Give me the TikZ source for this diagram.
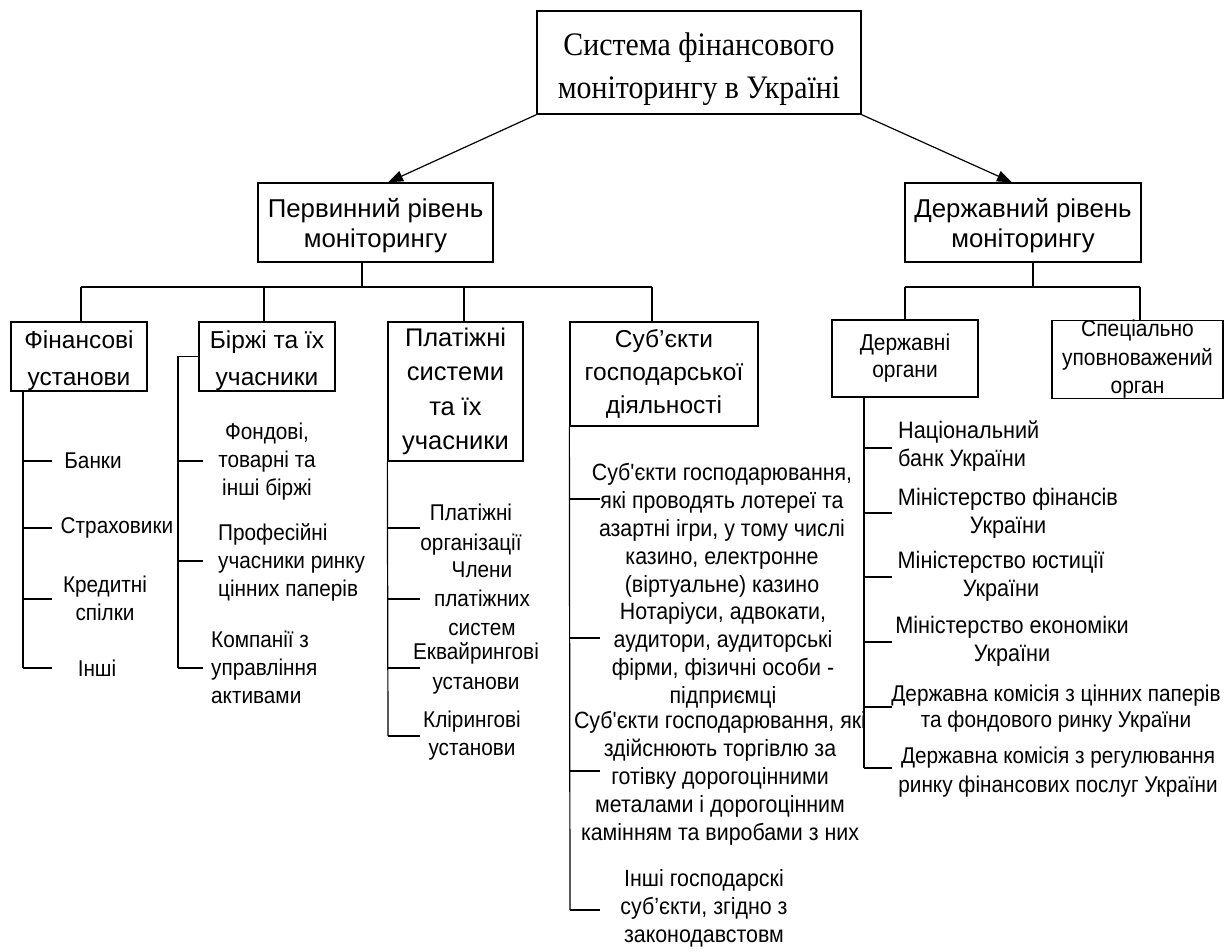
\documentclass[tikz,border=0pt]{standalone}
\usepackage{fontspec}
\setmainfont{Liberation Sans}
\newfontfamily\nar[FakeStretch=0.91]{Liberation Sans}
\newfontfamily\tms[FakeStretch=0.91]{Liberation Serif}
\usetikzlibrary{arrows.meta,calc}
\tikzset{
  box/.style={draw, line width=1.3pt, inner sep=0pt, align=center},
  hdr/.style={font=\fontsize{24.5}{37}\selectfont},
  lbl/.style={inner sep=0pt, align=center, font=\nar\fontsize{22.8}{28}\selectfont},
  lbll/.style={lbl, anchor=west, align=left},
  ln/.style={line width=1.2pt},
  arr/.style={line width=1.2pt, -{Triangle[length=15pt,width=11pt]}},
}
\begin{document}
\begin{tikzpicture}[x=1pt,y=-1pt]
\useasboundingbox (0,0) rectangle (1225,951);

% top
\node[box, minimum width=324pt, minimum height=103pt] (top) at (699,62.5) {};
\node[inner sep=0pt, align=center, font=\tms\fontsize{32.8}{43}\selectfont] (toptxt) at (699,69) {Система фінансового\\моніторингу в Україні};

% level 2
\node[box, minimum width=235pt, minimum height=79pt, font=\fontsize{25.8}{30}\selectfont] (prv) at (375.5,222.5) {\rule{0pt}{25pt}Первинний рівень\\моніторингу};
\node[box, minimum width=236pt, minimum height=79pt, font=\fontsize{25.8}{30}\selectfont] (drz) at (1023,222.5) {\rule{0pt}{25pt}Державний рівень\\моніторингу};

\draw[arr] (top.south west) -- ($(prv.north)+(12.5,0)$);
\draw[arr] (top.south east) -- ($(drz.north)+(-11,0)$);

% level 3 boxes
\node[box, hdr, minimum width=136pt, minimum height=69pt] (fin) at (79,356.5) {\rule{0pt}{26pt}Фінансові\\установи};
\node[box, hdr, minimum width=136pt, minimum height=69pt] (brz) at (267,356.5) {\rule{0pt}{26pt}Біржі та їх\\учасники};
\node[box, minimum width=135pt, minimum height=139pt, font=\fontsize{25.5}{34.5}\selectfont] (plt) at (455.5,391.5) {Платіжні\\системи\\та їх\\учасники};
\node[box, minimum width=188pt, minimum height=104pt, font=\fontsize{24.5}{33}\selectfont] (sbj) at (664,374) {Суб’єкти\\господарської\\діяльності};
\node[box, minimum width=146pt, minimum height=77pt, font=\nar\fontsize{23}{27}\selectfont] (dorg) at (905,358.5) {Державні\\органи};
\node[box, minimum width=171pt, minimum height=75pt, font=\nar\fontsize{23}{28.5}\selectfont] (spec) at (1137.5,359.5) {Спеціально\\уповноважений\\орган};

% left bus
\coordinate (pb) at (362,287);
\draw[ln] (pb |- prv.south) -- (pb);
\coordinate (b1) at (81,287);
\coordinate (b2) at (264,287);
\coordinate (b3) at (464,287);
\coordinate (b4) at (652,287);
\draw[ln] (b1) -- (b4);
\draw[ln] (b1) -- (b1 |- fin.north);
\draw[ln] (b2) -- (b2 |- brz.north);
\draw[ln] (b3) -- (b3 |- plt.north);
\draw[ln] (b4) -- (b4 |- sbj.north);

% right bus
\coordinate (rb) at (1033,287);
\draw[ln] (rb |- drz.south) -- (rb);
\coordinate (r1) at (905,287);
\coordinate (r2) at (1140,287);
\draw[ln] (r1) -- (r2);
\draw[ln] (r1) -- (r1 |- dorg.north);
\draw[ln] (r2) -- (r2 |- spec.north);

% trunks
\coordinate (fe) at (23,668);
\draw[ln] (fe |- fin.south) -- (fe);
\foreach \y in {461,528,599,668} {\coordinate (t) at (23,\y); \draw[ln] (t) -- ++(29,0);}

\coordinate (be) at (178,668);
\draw[ln] (brz.west) -| (be);
\foreach \y in {461,561,668} {\coordinate (t) at (178,\y); \draw[ln] (t) -- ++(25,0);}

\coordinate (pe) at (388,736);
\draw[ln] (plt.south west) -- (pe);
\foreach \y in {528,599,668,736} {\coordinate (t) at (388,\y); \draw[ln] (t) -- ++(32,0);}

\coordinate (se) at (570,910);
\draw[ln] (sbj.south west) -- (se);
\foreach \y in {499,638,771,910} {\coordinate (t) at (570,\y); \draw[ln] (t) -- ++(30,0);}

\coordinate (de) at (864,768);
\draw[ln] (de |- dorg.south) -- (de);
\foreach \y in {448,513,577,642,707,768} {\coordinate (t) at (864,\y); \draw[ln] (t) -- ++(28,0);}

% labels: financial institutions
\node[lbl] (f1) at (93,461) {Банки};
\node[lbl] (f2) at (117,528) {Страховики};
\node[lbl] (f3) at (105,598.5) {Кредитні\\спілки};
\node[lbl] (f4) at (97,668) {Інші};

% exchanges
\node[lbl] (e1) at (267,462) {Фондові,\\товарні та\\інші біржі};
\node[lbll] (e2) at (218,562) {Професійні\\учасники ринку\\цінних паперів};
\node[lbll] (e3) at (211,667) {Компанії з\\управління\\активами};

% payment systems
\node[lbl, font=\nar\fontsize{22.8}{30}\selectfont] (p1) at (471,530) {Платіжні\\організації};
\node[lbl, font=\nar\fontsize{22.8}{29}\selectfont] (p2) at (482,599) {Члени\\платіжних\\систем};
\node[lbl, font=\nar\fontsize{22.8}{30}\selectfont] (p3) at (476,668) {Еквайрингові\\установи};
\node[lbl] (p4) at (472,736) {Клірингові\\установи};

% business entities
\tikzset{lbs/.style={lbl, font=\nar\fontsize{23.5}{28}\selectfont}}
\node[lbs] (s1) at (722,530.5) {Суб'єкти господарювання,\\які проводять лотереї та\\азартні ігри, у тому числі\\казино, електронне\\(віртуальне) казино};
\node[lbs] (s2) at (723,655) {Нотаріуси, адвокати,\\аудитори, аудиторські\\фірми, фізичні особи -\\підприємці};
\node[lbs] (s3) at (720,778.5) {Суб'єкти господарювання, які\\здійснюють торгівлю за\\готівку дорогоцінними\\металами і дорогоцінним\\камінням та виробами з них};
\node[lbs] (s4) at (704,908) {Інші господарскі\\суб’єкти, згідно з\\законодавстовм};

% state bodies
\tikzset{lbr/.style={lbl, font=\nar\fontsize{23.8}{28}\selectfont}}
\node[lbr, anchor=west, align=left] (d1) at (898,446) {Національний\\банк України};
\node[lbr] (d2) at (1008,513.5) {Міністерство фінансів\\України};
\node[lbr] (d3) at (1001,576.5) {Міністерство юстиції\\України};
\node[lbr] (d4) at (1012,641.5) {Міністерство економіки\\України};
\node[lbl, font=\nar\fontsize{22.8}{26}\selectfont] (d5) at (1056,709) {Державна комісія з цінних паперів\\та фондового ринку України};
\node[lbl, font=\nar\fontsize{22.8}{29}\selectfont] (d6) at (1058,772.5) {Державна комісія з регулювання\\ринку фінансових послуг України};
\end{tikzpicture}
\end{document}
